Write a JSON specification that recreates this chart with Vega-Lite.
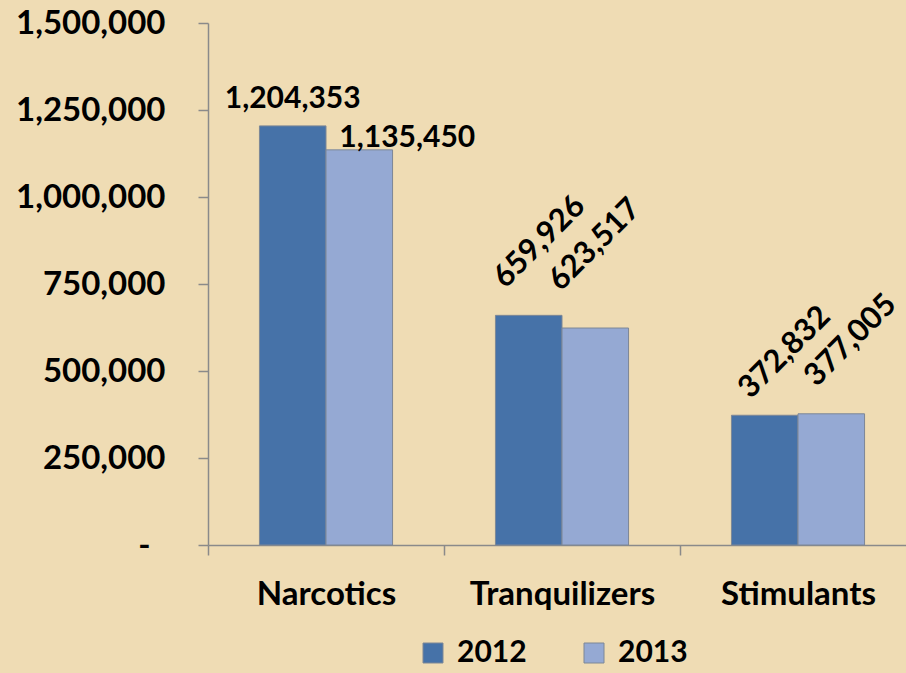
{
  "$schema": "https://vega.github.io/schema/vega-lite/v6.json",
  "width": 698,
  "height": 522,
  "autosize": {"type": "none"},
  "padding": {"left": 208, "top": 23, "right": 0, "bottom": 128},
  "background": "#efdcb4",
  "config": {
    "view": {"stroke": null},
    "font": "Lato",
    "axis": {"domainColor": "#8a8a8a", "tickColor": "#8a8a8a", "domainWidth": 1.5, "tickWidth": 1.5, "labelColor": "#000000", "labelFont": "Lato", "labelFontWeight": "bold", "grid": false, "title": null, "labelLimit": 400}
  },
  "data": {
    "values": [
      {"category": "Narcotics", "year": "2012", "value": 1204353},
      {"category": "Narcotics", "year": "2013", "value": 1135450},
      {"category": "Tranquilizers", "year": "2012", "value": 659926},
      {"category": "Tranquilizers", "year": "2013", "value": 623517},
      {"category": "Stimulants", "year": "2012", "value": 372832},
      {"category": "Stimulants", "year": "2013", "value": 377005}
    ]
  },
  "encoding": {
    "x": {
      "field": "category", "type": "nominal",
      "sort": ["Narcotics", "Tranquilizers", "Stimulants"],
      "scale": {"range": [0, 708], "paddingInner": 0.436, "paddingOuter": 0.218},
      "axis": {"labelAngle": 0, "tickOffset": -118, "labelOffset": 118, "tickSize": 10, "labelPadding": 23, "labelFontSize": 33, "labelLimit": 400}
    },
    "xOffset": {"field": "year", "type": "nominal", "sort": ["2012", "2013"]},
    "y": {
      "field": "value", "type": "quantitative",
      "scale": {"domain": [0, 1500000], "nice": false},
      "axis": {"values": [0, 250000, 500000, 750000, 1000000, 1250000, 1500000], "tickSize": 10, "labelPadding": {"condition": {"test": "datum.value == 0", "value": 48}, "value": 33}, "labelFontSize": 33, "labelExpr": "datum.value == 0 ? '-' : format(datum.value, ',')"}
    }
  },
  "layer": [
    {
      "mark": {"type": "bar", "stroke": "#7d8796", "strokeWidth": 1},
      "encoding": {
        "color": {
          "field": "year", "type": "nominal",
          "scale": {"domain": ["2012", "2013"], "range": ["#4672a8", "#95a9d3"]},
          "legend": {"orient": "none", "legendX": 210, "legendY": 615, "direction": "horizontal", "title": null, "symbolType": "square", "symbolSize": 400, "symbolStrokeColor": "#7d8796", "symbolStrokeWidth": 1, "labelFontSize": 30, "labelFontWeight": "bold", "labelColor": "#000000", "labelOffset": 9, "columnPadding": 52, "labelBaseline": "middle"}
        }
      }
    },
    {
      "transform": [{"filter": "datum.category == 'Narcotics' && datum.year == '2012'"}],
      "mark": {"type": "text", "fontSize": 30, "fontWeight": "bold", "color": "#000000", "align": "center", "baseline": "alphabetic", "dy": -18},
      "encoding": {"text": {"field": "value", "type": "quantitative", "format": ","}}
    },
    {
      "transform": [{"filter": "datum.category == 'Narcotics' && datum.year == '2013'"}],
      "mark": {"type": "text", "fontSize": 30, "fontWeight": "bold", "color": "#000000", "align": "center", "baseline": "alphabetic", "dx": 48, "dy": -3},
      "encoding": {"text": {"field": "value", "type": "quantitative", "format": ","}}
    },
    {
      "transform": [{"filter": "datum.category == 'Tranquilizers' && datum.year == '2012'"}],
      "mark": {"type": "text", "fontSize": 31, "fontWeight": "bold", "color": "#000000", "align": "left", "baseline": "middle", "angle": -45, "dx": 2, "dy": -44},
      "encoding": {"text": {"field": "value", "type": "quantitative", "format": ","}}
    },
    {
      "transform": [{"filter": "datum.category == 'Tranquilizers' && datum.year == '2013'"}],
      "mark": {"type": "text", "fontSize": 31, "fontWeight": "bold", "color": "#000000", "align": "left", "baseline": "middle", "angle": -45, "dx": 1, "dy": -59},
      "encoding": {"text": {"field": "value", "type": "quantitative", "format": ","}}
    },
    {
      "transform": [{"filter": "datum.category == 'Stimulants' && datum.year == '2012'"}],
      "mark": {"type": "text", "fontSize": 31, "fontWeight": "bold", "color": "#000000", "align": "left", "baseline": "middle", "angle": -45, "dx": 1, "dy": -30},
      "encoding": {"text": {"field": "value", "type": "quantitative", "format": ","}}
    },
    {
      "transform": [{"filter": "datum.category == 'Stimulants' && datum.year == '2013'"}],
      "mark": {"type": "text", "fontSize": 31, "fontWeight": "bold", "color": "#000000", "align": "left", "baseline": "middle", "angle": -45, "dx": 8, "dy": -38},
      "encoding": {"text": {"field": "value", "type": "quantitative", "format": ","}}
    }
  ]
}
